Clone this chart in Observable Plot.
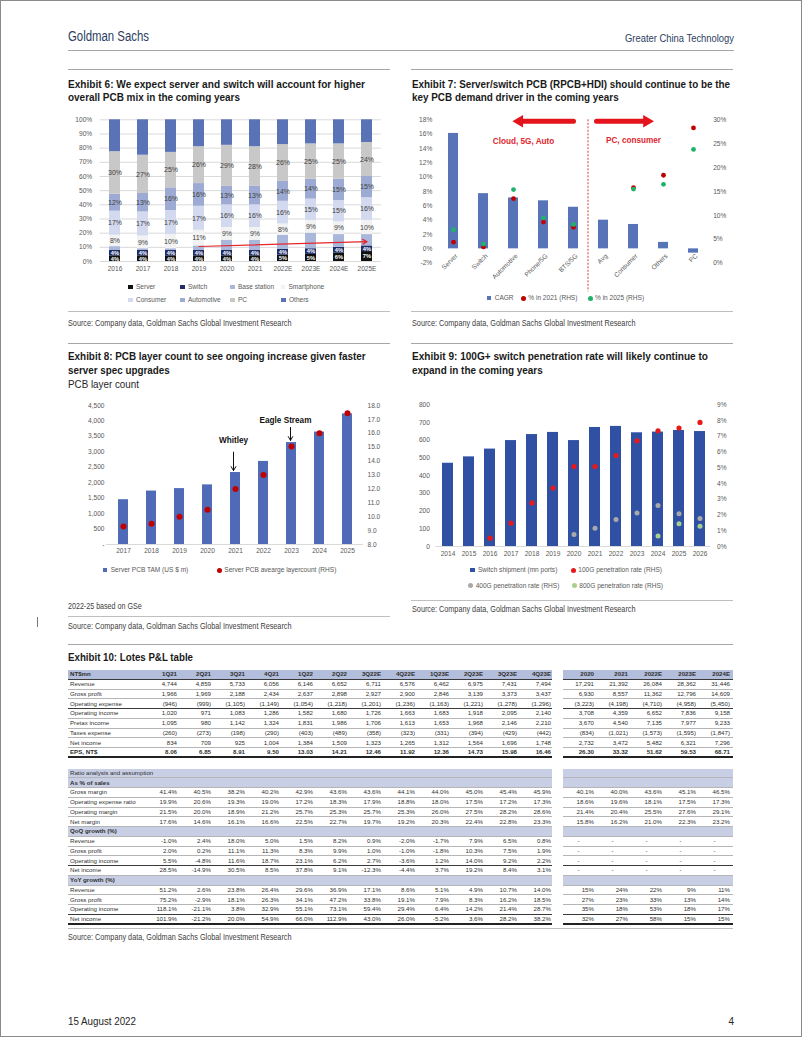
<!DOCTYPE html>
<html><head><meta charset="utf-8"><title>Greater China Technology</title>
<script src="https://cdn.jsdelivr.net/npm/d3@7"></script>
<script src="https://cdn.jsdelivr.net/npm/@observablehq/plot@0.6"></script>
<style>
html,body{margin:0;padding:0;background:#fff;}
#page{position:relative;width:802px;height:1037px;overflow:hidden;background:#fff;}
#frame{position:absolute;left:0;top:0;width:802px;height:1037px;box-sizing:border-box;border:1px solid #8a8a8a;pointer-events:none;}
.abs{position:absolute;white-space:nowrap;}
.hl{position:absolute;height:0;}
.sw{position:absolute;}
#tbl{position:absolute;left:68px;top:670px;border-collapse:separate;border-spacing:0;table-layout:fixed;width:665px;color:#303030;}
#tbl tr{height:9.75px;}
#tbl td{padding:0 1px 0 0;line-height:8px;white-space:nowrap;overflow:hidden;text-align:right;border-bottom:1px solid #b5b5b5;vertical-align:middle;}
#tbl td.l{text-align:left;padding-left:2px;}
#tbl td.r{padding-right:3px;}
#tbl td.c{text-align:center;}
#tbl td.s{border-bottom:none !important;background:none !important;}
#tbl tr.h td{background:#b3bedc;font-weight:bold;border-bottom:1px solid #3a3a3a;}
#tbl tr.d td{border-bottom-color:#3a3a3a;}
#tbl tr.e td{font-weight:bold;border-bottom:2px solid #222;}
#tbl tr.g{height:10.5px;}
#tbl tr.g td{border-bottom:none;}
#tbl tr.b td{background:#c8cfe5;}
#tbl tr.bb td{background:#c8cfe5;font-weight:bold;}
#tbl tr.z td{border-bottom:2px solid #222;}
</style></head><body><div id="page"></div>
<script>
// ---------------- DATA ----------------
// Exhibit 6
const ex6Years = ["2016","2017","2018","2019","2020","2021","2022E","2023E","2024E","2025E"];
const ex6Series = ["Server","Switch","Base station","Smartphone","Consumer","Automotive","PC","Others"];
const ex6Server     = [4, 4, 4, 4, 4, 4, 4.5, 5, 6, 7];
const ex6Switch     = [4, 4, 4, 4, 4, 4, 4, 4, 4, 4];
const ex6Base       = [2.5, 1, 1, 3, 7, 7, 10, 11, 9, 8];
const ex6Smartphone = [8, 9, 10, 11, 9, 9, 8, 9, 9, 10];
const ex6Consumer   = [17, 17, 17, 17, 16, 16, 16, 15, 15, 16];
const ex6Automotive = [12, 13, 16, 16, 13, 13, 14, 14, 15, 15];
const ex6PC         = [30, 27, 25, 26, 29, 28, 26, 25, 25, 24];
const ex6Others     = [22.5, 25, 23, 19, 18, 19, 17.5, 17, 17, 16];
const ex6Ticks = [0,10,20,30,40,50,60,70,80,90,100];
const ex6Arrow = [{from:"2019", to:"2025E", y1:10.6, y2:14.0}];

// Exhibit 7
const ex7Cats = ["Server","Switch","Automotive","Phone/5G","BTS/5G","Avg","Consumer","Others","PC"];
const ex7CAGR = [16.1, 7.7, 7.1, 6.7, 5.8, 4.0, 3.4, 0.9, -0.6];
const ex7Share2021 = [4.4, 3.4, 13.5, 8.6, 7.5, null, 15.8, 18.4, 28.3];
const ex7Share2025 = [7.0, 4.0, 15.4, 9.5, 8.1, null, 15.5, 16.5, 23.8];
const ex7LeftTicks = [-2,0,2,4,6,8,10,12,14,16,18];
const ex7RightTicks = [0,5,10,15,20,25,30];
const ex7ArrowLeft = [{from:"BTS/5G", to:"Automotive", y:17.8}];
const ex7ArrowRight = [{from:"BTS/5G", to:"Others", y:17.8}];
const ex7NoteLeft = [{cat:"Automotive", y:15, label:"Cloud, 5G, Auto"}];
const ex7NoteRight = [{cat:"Consumer", y:15.1, label:"PC, consumer"}];

// Exhibit 8
const ex8Years = ["2017","2018","2019","2020","2021","2022","2023","2024","2025"];
const ex8TAM = [1450, 1730, 1810, 1930, 2330, 2690, 3300, 3640, 4230];
const ex8Layer = [9.3, 9.5, 10.0, 10.5, 12.0, 13.0, 15.05, 16.0, 17.45];
const ex8LeftTicks = [0,500,1000,1500,2000,2500,3000,3500,4000,4500];
const ex8RightTicks = [8,9,10,11,12,13,14,15,16,17,18];
const ex8NoteWhitley = [{year:"2021", label:"Whitley", textY:3367, from:2990, to:2390}];
const ex8NoteEagle = [{year:"2023", label:"Eagle Stream", textY:4014, from:3790, to:3370}];

// Exhibit 9
const ex9Years = ["2014","2015","2016","2017","2018","2019","2020","2021","2022","2023","2024","2025","2026"];
const ex9Ship = [470, 506, 550, 598, 632, 644, 598, 672, 678, 642, 646, 655, 649];
const ex9Pen100 = [null, null, 0.53, 1.48, 2.77, 3.71, 5.08, 5.08, 5.78, 6.71, 7.35, 7.52, 7.88];
const ex9Pen400 = [null, null, null, null, null, null, 0.76, 1.16, 1.72, 2.12, 2.60, 2.08, 1.78];
const ex9Pen800 = [null, null, null, null, null, null, null, null, null, null, 0.66, 1.44, 1.29];
const ex9LeftTicks = [0,100,200,300,400,500,600,700,800];
const ex9RightTicks = [0,1,2,3,4,5,6,7,8,9];

// Exhibit 10 (table)
const tblQuarters = ["1Q21","2Q21","3Q21","4Q21","1Q22","2Q22","3Q22E","4Q22E","1Q23E","2Q23E","3Q23E","4Q23E"];
const tblYears = ["2020","2021","2022E","2023E","2024E"];
const plIncome = [
  ["Revenue", "4,744 4,859 5,733 6,056 6,146 6,652 6,711 6,576 6,462 6,975 7,431 7,494 | 17,291 21,392 26,084 28,362 31,446", ""],
  ["Gross profit", "1,966 1,969 2,188 2,434 2,637 2,898 2,927 2,900 2,846 3,139 3,373 3,437 | 6,930 8,557 11,362 12,796 14,609", ""],
  ["Operating expense", "(946) (999) (1,105) (1,149) (1,054) (1,218) (1,201) (1,236) (1,163) (1,221) (1,278) (1,296) | (3,223) (4,198) (4,710) (4,958) (5,450)", "d"],
  ["Operating income", "1,020 971 1,083 1,286 1,582 1,680 1,726 1,663 1,683 1,918 2,095 2,140 | 3,708 4,359 6,652 7,836 9,158", ""],
  ["Pretax income", "1,095 980 1,142 1,324 1,831 1,986 1,706 1,613 1,653 1,968 2,146 2,210 | 3,670 4,540 7,135 7,977 9,233", ""],
  ["Taxes expense", "(260) (273) (198) (290) (403) (489) (358) (323) (331) (394) (429) (442) | (834) (1,021) (1,573) (1,595) (1,847)", ""],
  ["Net income", "834 709 925 1,004 1,384 1,509 1,323 1,265 1,312 1,564 1,696 1,748 | 2,732 3,472 5,482 6,321 7,296", ""],
  ["EPS, NT$", "8.06 6.85 8.91 9.50 13.03 14.21 12.46 11.92 12.36 14.73 15.98 16.46 | 26.30 33.32 51.62 59.53 68.71", "e"]
];
const plMargins = [
  ["Gross margin", "41.4% 40.5% 38.2% 40.2% 42.9% 43.6% 43.6% 44.1% 44.0% 45.0% 45.4% 45.9% | 40.1% 40.0% 43.6% 45.1% 46.5%", ""],
  ["Operating expense ratio", "19.9% 20.6% 19.3% 19.0% 17.2% 18.3% 17.9% 18.8% 18.0% 17.5% 17.2% 17.3% | 18.6% 19.6% 18.1% 17.5% 17.3%", ""],
  ["Operating margin", "21.5% 20.0% 18.9% 21.2% 25.7% 25.3% 25.7% 25.3% 26.0% 27.5% 28.2% 28.6% | 21.4% 20.4% 25.5% 27.6% 29.1%", ""],
  ["Net margin", "17.6% 14.6% 16.1% 16.6% 22.5% 22.7% 19.7% 19.2% 20.3% 22.4% 22.8% 23.3% | 15.8% 16.2% 21.0% 22.3% 23.2%", ""]
];
const plQoQ = [
  ["Revenue", "-1.0% 2.4% 18.0% 5.0% 1.5% 8.2% 0.9% -2.0% -1.7% 7.9% 6.5% 0.8% | - - - - -", ""],
  ["Gross profit", "2.0% 0.2% 11.1% 11.3% 8.3% 9.9% 1.0% -1.0% -1.8% 10.3% 7.5% 1.9% | - - - - -", ""],
  ["Operating income", "5.5% -4.8% 11.6% 18.7% 23.1% 6.2% 2.7% -3.6% 1.2% 14.0% 9.2% 2.2% | - - - - -", "d"],
  ["Net income", "28.5% -14.9% 30.5% 8.5% 37.8% 9.1% -12.3% -4.4% 3.7% 19.2% 8.4% 3.1% | - - - - -", ""]
];
const plYoY = [
  ["Revenue", "51.2% 2.6% 23.8% 26.4% 29.6% 36.9% 17.1% 8.6% 5.1% 4.9% 10.7% 14.0% | 15% 24% 22% 9% 11%", ""],
  ["Gross profit", "75.2% -2.9% 18.1% 26.3% 34.1% 47.2% 33.8% 19.1% 7.9% 8.3% 16.2% 18.5% | 27% 23% 33% 13% 14%", ""],
  ["Operating income", "118.1% -21.1% 3.8% 32.9% 55.1% 73.1% 59.4% 29.4% 6.4% 14.2% 21.4% 28.7% | 35% 18% 53% 18% 17%", "d"],
  ["Net income", "101.9% -21.2% 20.0% 54.9% 66.0% 112.9% 43.0% 26.0% -5.2% 3.6% 28.2% 38.2% | 32% 27% 58% 15% 15%", "z"]
];

// ---------------- FONTS ----------------
function hasFont(f){
  const c = document.createElement("canvas").getContext("2d");
  const s = "abcdefghijklmnopqrstuvwxyzABCDEFGHIJ0123456789";
  c.font = "40px monospace"; const a = c.measureText(s).width;
  c.font = `40px "${f}", monospace`; const b = c.measureText(s).width;
  return a !== b;
}
const NARROW = hasFont("Liberation Sans Narrow");
const NF = NARROW ? '"Liberation Sans Narrow", "Liberation Sans", Arial, sans-serif' : '"Liberation Sans", Arial, sans-serif';
const k = NARROW ? 1 : 0.82;

// ---------------- HELPERS ----------------
const page = document.getElementById("page");
function label(text, x, yc, {size=10, weight=400, color="#262626", w=null, anchor="start"}={}) {
  const d = document.createElement("div");
  d.className = "abs";
  d.textContent = text;
  Object.assign(d.style, {fontSize: size+"px", fontWeight: weight, color, fontFamily: NF,
    lineHeight: (size*1.2)+"px", top: (yc - size*0.6)+"px", left: "0px"});
  page.appendChild(d);
  const nat = d.getBoundingClientRect().width;
  if (w) { d.style.transformOrigin = "0 50%"; d.style.transform = `scaleX(${w/nat})`; }
  const width = w || nat;
  d.style.left = (anchor === "end" ? x - width : anchor === "middle" ? x - width/2 : x) + "px";
  return d;
}
function hline(x1, x2, y, color="#a6a6a6", t=1.5) {
  const d = document.createElement("div"); d.className = "hl";
  Object.assign(d.style, {left: x1+"px", width: (x2-x1)+"px", top: (y - t/2)+"px", borderTop: `${t}px solid ${color}`});
  page.appendChild(d);
}
function legend(items) {
  items.forEach(([x, yc, kind, color, text]) => {
    const s = document.createElement("div"); s.className = "sw";
    const d = kind === "dot" ? 5 : 4.5;
    Object.assign(s.style, {left: (kind === "dot" ? x - d/2 : x)+"px", top: (yc - d/2)+"px",
      width: d+"px", height: d+"px", background: color, borderRadius: kind === "dot" ? "50%" : "0"});
    page.appendChild(s);
    label(text, kind === "dot" ? x + 5 : x + 8, yc, {size: 8*k, color: "#595959"});
  });
}
function mount(svg, x, y) {
  const d = document.createElement("div");
  Object.assign(d.style, {position: "absolute", left: x+"px", top: y+"px"});
  d.appendChild(svg); page.appendChild(d);
}
const chartStyle = {fontFamily: NF, fontSize: (8*k)+"px", color: "#595959", background: "transparent", overflow: "visible"};

// ---------------- PAGE HEADER ----------------
label("Goldman Sachs", 68, 36.5, {size: 14, color: "#2c3e5f", w: 81});
label("Greater China Technology", 734, 39, {size: 11, color: "#2c3e5f", w: 109, anchor: "end"});
hline(68, 734, 51, "#a6a6a6", 1.5);

// ---------------- EXHIBIT 6 ----------------
hline(68, 390, 70);
label("Exhibit 6: We expect server and switch will account for higher", 68, 84.5, {size: 10.5, weight: 700, color: "#1a1a1a", w: 297});
label("overall PCB mix in the coming years", 68, 97.5, {size: 10.5, weight: 700, color: "#1a1a1a", w: 172});

const ex6Values = [ex6Server, ex6Switch, ex6Base, ex6Smartphone, ex6Consumer, ex6Automotive, ex6PC, ex6Others];
const ex6Colors = ["#111111", "#1f2d6b", "#a9b7da", "#f2f2f2", "#d3d9ee", "#9dabd4", "#c8c8c8", "#5a73b7"];
const ex6Data = ex6Years.flatMap((yr, i) => ex6Series.map((s, j) => ({year: yr, series: s, value: ex6Values[j][i]})));
const ex6Labeled = ["Smartphone", "Consumer", "Automotive", "PC"];
const ex6DarkLabeled = ["Server", "Switch"];

mount(Plot.plot({
  width: 322, height: 169, marginLeft: 31.6, marginRight: 9.2, marginTop: 9.3, marginBottom: 18,
  style: chartStyle,
  x: {domain: ex6Years, paddingInner: 0.6, paddingOuter: 0.3, label: null, tickSize: 0, tickPadding: 5},
  y: {domain: [0, 100], label: null},
  color: {domain: ex6Series, range: ex6Colors},
  marks: [
    Plot.gridY(ex6Ticks, {stroke: "#d9d9d9", strokeOpacity: 1}),
    Plot.axisY(ex6Ticks, {anchor: "left", tickSize: 0, tickPadding: 8, tickFormat: d => d + "%", label: null}),
    Plot.barY(ex6Data, {x: "year", y: "value", fill: "series"}),
    Plot.text(ex6Data, Plot.stackY({x: "year", y: "value", z: "series",
      text: d => ex6Labeled.includes(d.series) ? Math.round(d.value) + "%" : null, fill: "#404040", fontSize: 8.5*k})),
    Plot.text(ex6Data, Plot.stackY({x: "year", y: "value", z: "series",
      text: d => ex6DarkLabeled.includes(d.series) ? Math.round(d.value) + "%" : null, fill: "#ffffff", fontSize: 7*k, fontWeight: "bold"})),
    Plot.arrow(ex6Arrow, {x1: "from", x2: "to", y1: "y1", y2: "y2", stroke: "#e5262b", strokeWidth: 1.2, headLength: 6})
  ]
}), 68, 110);

legend([
  [128, 287, "sq", ex6Colors[0], "Server"], [180, 287, "sq", ex6Colors[1], "Switch"],
  [230, 287, "sq", ex6Colors[2], "Base station"], [280.5, 287, "sq", ex6Colors[3], "Smartphone"],
  [128, 300, "sq", ex6Colors[4], "Consumer"], [180, 300, "sq", ex6Colors[5], "Automotive"],
  [230, 300, "sq", ex6Colors[6], "PC"], [281, 300, "sq", ex6Colors[7], "Others"]
]);
hline(68, 390, 311, "#bfbfbf", 1);
label("Source: Company data, Goldman Sachs Global Investment Research", 68, 323, {size: 9, color: "#404040", w: 223.5});

// ---------------- EXHIBIT 7 ----------------
hline(411, 733, 70);
label("Exhibit 7: Server/switch PCB (RPCB+HDI) should continue to be the", 411.7, 84.5, {size: 10.5, weight: 700, color: "#1a1a1a", w: 318});
label("key PCB demand driver in the coming years", 411.7, 97.5, {size: 10.5, weight: 700, color: "#1a1a1a", w: 206.7});

const ex7Data = ex7Cats.map((c, i) => ({cat: c, cagr: ex7CAGR[i], s21: ex7Share2021[i], s25: ex7Share2025[i]}));
const toLeft7 = r => r / 1.5 - 2;
const red7 = "#e3141b";
mount(Plot.plot({
  width: 322, height: 178.7, marginLeft: 26.7, marginRight: 25.3, marginTop: 9.3, marginBottom: 26,
  style: chartStyle,
  x: {domain: ex7Cats, paddingInner: 0.67, paddingOuter: 0.335, axis: null},
  y: {domain: [-2, 18], label: null},
  marks: [
    Plot.axisY(ex7LeftTicks, {anchor: "left", tickSize: 0, tickPadding: 6, tickFormat: d => d + "%", label: null}),
    Plot.axisY(ex7RightTicks.map(toLeft7), {anchor: "right", tickSize: 0, tickPadding: 5, tickFormat: d => Math.round((d + 2) * 1.5) + "%", label: null}),
    Plot.barY(ex7Data, {x: "cat", y: "cagr", fill: "#5874b9"}),
    Plot.ruleX(["Avg"], {x: d => d, y1: () => 18, y2: () => -6, dx: -15.5, stroke: "#d43a3a", strokeDasharray: "2,1.5", strokeWidth: 1}),
    Plot.dot(ex7Data.filter(d => d.s21 != null), {x: "cat", y: d => toLeft7(d.s21), r: 2.4, fill: "#c00000"}),
    Plot.dot(ex7Data.filter(d => d.s25 != null), {x: "cat", y: d => toLeft7(d.s25), r: 2.4, fill: "#1fb26b"}),
    Plot.text(ex7Data, {x: "cat", y: () => 0, text: "cat", rotate: -45, textAnchor: "end", dx: 3, dy: 6, fill: "#595959"}),
    Plot.arrow(ex7ArrowLeft, {x1: "from", x2: "to", y1: "y", y2: "y", stroke: red7, strokeWidth: 5, headLength: 0, insetEnd: 7}),
    Plot.dot(ex7ArrowLeft, {x: "to", y: "y", symbol: "triangle", r: 4.6, rotate: -90, fill: red7, dx: 6}),
    Plot.arrow(ex7ArrowRight, {x1: "from", x2: "to", y1: "y", y2: "y", stroke: red7, strokeWidth: 5, headLength: 0, insetStart: 23, insetEnd: 16}),
    Plot.dot(ex7ArrowRight, {x: "to", y: "y", symbol: "triangle", r: 4.6, rotate: 90, fill: red7, dx: -16.7}),
    Plot.text(ex7NoteLeft, {x: "cat", y: "y", text: "label", dx: 10, fill: "#e0262c", fontWeight: "bold", fontSize: 10*k}),
    Plot.text(ex7NoteRight, {x: "cat", y: "y", text: "label", fill: "#e0262c", fontWeight: "bold", fontSize: 10*k})
  ]
}), 411, 110);

legend([
  [486.7, 298, "sq", "#5874b9", "CAGR"],
  [523.3, 298, "dot", "#c00000", "% in 2021 (RHS)"],
  [590, 298, "dot", "#1fb26b", "% in 2025 (RHS)"]
]);
hline(411, 733, 311, "#bfbfbf", 1);
label("Source: Company data, Goldman Sachs Global Investment Research", 411.7, 323, {size: 9, color: "#404040", w: 223.5});

// ---------------- EXHIBIT 8 ----------------
hline(68, 390, 343.3);
label("Exhibit 8: PCB layer count to see ongoing increase given faster", 68, 356.5, {size: 10.5, weight: 700, color: "#1a1a1a", w: 297.7});
label("server spec upgrades", 68, 370, {size: 10.5, weight: 700, color: "#1a1a1a", w: 101.7});
label("PCB layer count", 68, 384, {size: 10.5, color: "#262626", w: 71});

const ex8Data = ex8Years.map((y, i) => ({year: y, tam: ex8TAM[i], layer: ex8Layer[i]}));
const toLeft8 = v => (v - 8) * 450;
mount(Plot.plot({
  width: 322, height: 164, marginLeft: 38, marginRight: 27, marginTop: 9, marginBottom: 16,
  style: chartStyle,
  x: {domain: ex8Years, paddingInner: 0.65, paddingOuter: 0.325, label: null, tickSize: 0, tickPadding: 4},
  y: {domain: [0, 4500], label: null},
  marks: [
    Plot.axisY(ex8LeftTicks, {anchor: "left", tickSize: 0, tickPadding: 2, tickFormat: d => d === 0 ? "-" : d3.format(",")(d), label: null}),
    Plot.axisY(ex8RightTicks.map(toLeft8), {anchor: "right", tickSize: 0, tickPadding: 4, tickFormat: d => (d / 450 + 8).toFixed(1), label: null}),
    Plot.ruleY([0], {stroke: "#d9d9d9"}),
    Plot.barY(ex8Data, {x: "year", y: "tam", fill: "#4f6bb8"}),
    Plot.dot(ex8Data, {x: "year", y: d => toLeft8(d.layer), r: 3, fill: "#c00000"}),
    Plot.arrow(ex8NoteWhitley, {x1: "year", x2: "year", y1: "from", y2: "to", dx: -2, stroke: "#111", strokeWidth: 1, headLength: 7}),
    Plot.arrow(ex8NoteEagle, {x1: "year", x2: "year", y1: "from", y2: "to", dx: -1, stroke: "#111", strokeWidth: 1, headLength: 7}),
    Plot.text(ex8NoteWhitley, {x: "year", y: "textY", text: "label", dx: -2, fill: "#111", fontWeight: "bold", fontSize: 10*k}),
    Plot.text(ex8NoteEagle, {x: "year", y: "textY", text: "label", dx: -6, fill: "#111", fontWeight: "bold", fontSize: 10*k})
  ]
}), 68, 396);

legend([
  [102.7, 570, "sq", "#4f6bb8", "Server PCB TAM (US $ m)"],
  [219.3, 570, "dot", "#c00000", "Server PCB avearge layercount  (RHS)"]
]);
label("2022-25 based on GSe", 68, 606.7, {size: 9, color: "#404040", w: 73.7});
hline(68, 390, 616, "#bfbfbf", 1);
label("Source: Company data, Goldman Sachs Global Investment Research", 68, 626.7, {size: 9, color: "#404040", w: 223.5});

// ---------------- EXHIBIT 9 ----------------
hline(411, 733, 343.3);
label("Exhibit 9: 100G+ switch penetration rate will likely continue to", 411.7, 356.5, {size: 10.5, weight: 700, color: "#1a1a1a", w: 296});
label("expand in the coming years", 411.7, 370, {size: 10.5, weight: 700, color: "#1a1a1a", w: 130.7});

const ex9Data = ex9Years.map((y, i) => ({year: y, ship: ex9Ship[i], p100: ex9Pen100[i], p400: ex9Pen400[i], p800: ex9Pen800[i]}));
const toLeft9 = p => p * 800 / 9;
mount(Plot.plot({
  width: 322, height: 167, marginLeft: 24.4, marginRight: 22.4, marginTop: 9.3, marginBottom: 16,
  style: chartStyle,
  x: {domain: ex9Years, paddingInner: 0.5, paddingOuter: 0.25, label: null, tickSize: 0, tickPadding: 5},
  y: {domain: [0, 800], label: null},
  marks: [
    Plot.axisY(ex9LeftTicks, {anchor: "left", tickSize: 0, tickPadding: 6, label: null}),
    Plot.axisY(ex9RightTicks.map(toLeft9), {anchor: "right", tickSize: 0, tickPadding: 6, tickFormat: d => Math.round(d * 9 / 800) + "%", label: null}),
    Plot.ruleY([0], {stroke: "#d9d9d9"}),
    Plot.barY(ex9Data, {x: "year", y: "ship", fill: "#2f50a3"}),
    Plot.dot(ex9Data.filter(d => d.p100 != null), {x: "year", y: d => toLeft9(d.p100), r: 2.6, fill: "#e41a1c"}),
    Plot.dot(ex9Data.filter(d => d.p400 != null), {x: "year", y: d => toLeft9(d.p400), r: 2.5, fill: "#a9a9a9"}),
    Plot.dot(ex9Data.filter(d => d.p800 != null), {x: "year", y: d => toLeft9(d.p800), r: 2.5, fill: "#a8d08d"})
  ]
}), 411, 395);

legend([
  [470, 570, "sq", "#2f50a3", "Switch shipment (mn ports)"],
  [573.3, 570, "dot", "#e41a1c", "100G penetration rate (RHS)"],
  [470.7, 585.7, "dot", "#a9a9a9", "400G penetration rate (RHS)"],
  [574.3, 585.7, "dot", "#a8d08d", "800G penetration rate (RHS)"]
]);
hline(411, 733, 600, "#bfbfbf", 1);
label("Source: Company data, Goldman Sachs Global Investment Research", 411.7, 609, {size: 9, color: "#404040", w: 223.5});

// stray margin mark
(function(){ const d = document.createElement("div");
  Object.assign(d.style, {position: "absolute", left: "37px", top: "617px", width: "1px", height: "10px", background: "#777"});
  page.appendChild(d); })();

// ---------------- EXHIBIT 10 (table) ----------------
hline(68, 733, 645);
label("Exhibit 10: Lotes P&L table", 68, 657, {size: 10.5, weight: 700, color: "#1a1a1a", w: 125});

function cellsFor(str) {
  const [q, a] = str.split(" | ");
  const qs = q.split(" "), as = a.split(" ");
  return qs.map(v => `<td>${v}</td>`).join("") + `<td class="s"></td>` +
    as.map(v => `<td class="r${v === "-" ? " c" : ""}">${v}</td>`).join("");
}
function bandRow(cls, text) {
  return `<tr class="${cls}"><td class="l" colspan="13">${text}</td><td class="s"></td><td colspan="5"></td></tr>`;
}
let html = `<colgroup><col style="width:76px">${'<col style="width:34px">'.repeat(12)}<col style="width:11px">${'<col style="width:34px">'.repeat(5)}</colgroup>`;
html += `<tr class="h"><td class="l">NT$mn</td>${tblQuarters.map(q => `<td>${q}</td>`).join("")}<td class="s"></td>${tblYears.map(y => `<td class="r">${y}</td>`).join("")}</tr>`;
plIncome.forEach(([l, s, c]) => { html += `<tr class="${c}"><td class="l">${l}</td>${cellsFor(s)}</tr>`; });
html += `<tr class="g"><td colspan="19"></td></tr>`;
html += bandRow("b", "Ratio analysis and assumption");
html += bandRow("bb", "As % of sales");
plMargins.forEach(([l, s, c]) => { html += `<tr class="${c}"><td class="l">${l}</td>${cellsFor(s)}</tr>`; });
html += bandRow("bb", "QoQ growth (%)");
plQoQ.forEach(([l, s, c]) => { html += `<tr class="${c}"><td class="l">${l}</td>${cellsFor(s)}</tr>`; });
html += bandRow("bb", "YoY growth (%)");
plYoY.forEach(([l, s, c]) => { html += `<tr class="${c}"><td class="l">${l}</td>${cellsFor(s)}</tr>`; });
const tbl = document.createElement("table");
tbl.id = "tbl";
tbl.style.fontFamily = NF;
tbl.style.fontSize = (7.5*k) + "px";
tbl.innerHTML = html;
page.appendChild(tbl);

hline(68, 733, 928.3, "#bfbfbf", 1);
label("Source: Company data, Goldman Sachs Global Investment Research", 68, 937.7, {size: 9, color: "#404040", w: 223.5});

// ---------------- FOOTER ----------------
label("15 August 2022", 68, 1022, {size: 10, color: "#262626", w: 68});
label("4", 734, 1022, {size: 10, color: "#262626", anchor: "end"});

const frame = document.createElement("div"); frame.id = "frame"; page.appendChild(frame);
</script></body></html>
